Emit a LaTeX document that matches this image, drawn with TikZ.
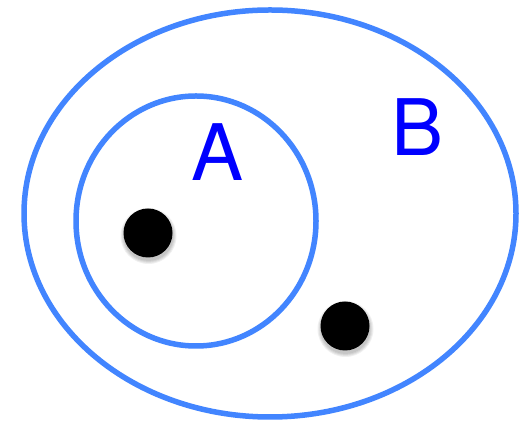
\documentclass[tikz,border=0pt]{standalone}
\usepackage{fontspec}
\setmainfont{TeX Gyre Heros}
\definecolor{setblue}{RGB}{66,133,255}
\definecolor{labelblue}{RGB}{0,0,255}
\tikzset{
  setline/.style={draw=setblue, line width=5.5pt},
  dot/.style={circle, fill=black, minimum size=49pt, inner sep=0pt},
  dotshadow/.style={fill=black, fill opacity=0.06, draw=none},
  setlabel/.style={text=labelblue, font=\fontsize{78}{80}\selectfont, inner sep=0pt}
}
\begin{document}
\begin{tikzpicture}[x=1pt,y=1pt]
\useasboundingbox[fill=white] (0,0) rectangle (521,430);
\draw[setline] (270,216.5) ellipse [x radius=246, y radius=203.5];
\draw[setline] (196,209) ellipse [x radius=120, y radius=125];
\node[setlabel] (A) at (218,278) {A};
\node[setlabel] (B) at (418,303) {B};
\foreach \cx/\cy in {148/197, 345/104}{
  \foreach \r in {25,26,27,28}{
    \fill[dotshadow] (\cx+0.5,\cy-3) circle (\r);
  }
}
\node[dot] (d1) at (148,197) {};
\node[dot] (d2) at (345,104) {};
\end{tikzpicture}
\end{document}
